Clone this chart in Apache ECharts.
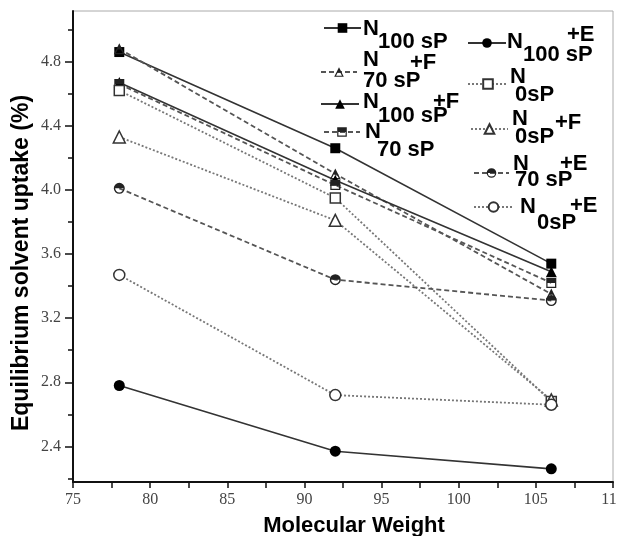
<!DOCTYPE html>
<html><head><meta charset="utf-8">
<script src="https://cdn.jsdelivr.net/npm/echarts@6/dist/echarts.min.js"></script>
<style>html,body{margin:0;padding:0;background:#fff}#c{width:617px;height:536px}</style>
</head><body><div id="c"></div>
<script>
// ---- data ----
const molecularWeights = [78, 92, 106];
const seriesNames = ['N100sP', 'N70sP+F', 'N100sP+F', 'N70sP', 'N100sP+E', 'N0sP', 'N0sP+F', 'N70sP+E', 'N0sP+E'];
const n100sP  = [4.86, 4.26, 3.54];
const n70sPF  = [4.88, 4.10, 3.35];
const n100sPF = [4.67, 4.06, 3.49];
const n70sP   = [4.66, 4.03, 3.42];
const n100sPE = [2.78, 2.37, 2.26];
const n0sP    = [4.62, 3.95, 2.68];
const n0sPF   = [4.33, 3.81, 2.69];
const n70sPE  = [4.01, 3.44, 3.31];
const n0sPE   = [3.47, 2.72, 2.66];
const yMajorTicks = [2.4, 2.8, 3.2, 3.6, 4.0, 4.4, 4.8];
const yMinorTicks = [2.2, 2.6, 3.0, 3.4, 3.8, 4.2, 4.6, 5.0];
const xTickStep = 5;

// ---- styles ----
const halfSquare = 'path://M0 0L20 0L20 20L0 20Z M2.5 10L2.5 17.5L17.5 17.5L17.5 10Z';
const halfCircle = 'path://M0 10A10 10 0 1 1 20 10A10 10 0 1 1 0 10Z M2.5 10A7.5 7.5 0 0 0 17.5 10Z';
const halfTri = 'path://M10 0L20 20L0 20Z M7.3 11L3.9 17.6L16.1 17.6L12.7 11Z';
const SOLID = {type: 'solid', color: '#333', width: 1.6};
const DASH = {type: [5, 3], color: '#555', width: 1.8};
const DOT = {type: [2, 2], color: '#777', width: 1.8};
const filled = {color: '#000'};
const open = {color: '#fff', borderColor: '#333', borderWidth: 1.5};
const halfSt = {color: '#222'};

const styles = [
  {symbol: 'rect', size: 10, line: SOLID, item: filled},
  {symbol: halfTri, size: 11, line: DASH, item: halfSt},
  {symbol: 'triangle', size: 11, line: SOLID, item: filled},
  {symbol: halfSquare, size: 10, line: DASH, item: halfSt},
  {symbol: 'circle', size: 11, line: SOLID, item: filled},
  {symbol: 'rect', size: 10, line: DOT, item: open},
  {symbol: 'triangle', size: 12, line: DOT, item: open},
  {symbol: halfCircle, size: 11, line: DASH, item: halfSt},
  {symbol: 'circle', size: 11, line: DOT, item: open}
];
const values = [n100sP, n70sPF, n100sPF, n70sP, n100sPE, n0sP, n0sPF, n70sPE, n0sPE];

const series = seriesNames.map((name, i) => ({
  name, type: 'line',
  data: molecularWeights.map((x, j) => [x, values[i][j]]),
  symbol: styles[i].symbol, symbolSize: styles[i].size,
  lineStyle: styles[i].line, itemStyle: styles[i].item,
  emphasis: {disabled: true}, animation: false
}));

// legend icon positions [left, centerY, width]
const legendPos = [
  [323, 28, 37], [320, 72, 36], [320, 104, 38], [323, 132, 36],
  [467, 43, 38], [467, 84, 40], [470, 129, 37], [473, 173, 35], [473, 207, 39]
];
const legends = seriesNames.map((name, i) => ({
  data: [name], left: legendPos[i][0], top: legendPos[i][1] - 6,
  itemWidth: legendPos[i][2], itemHeight: 12, padding: 0,
  formatter: () => '', selectedMode: false, textStyle: {fontSize: 1}
}));

// legend label pieces: [text, x, centerY]
const labelPieces = [
  ['N', 363, 29], ['100 sP', 378, 42],
  ['N', 363, 60], ['+F', 410, 63], ['70 sP', 363, 81],
  ['N', 363, 102], ['+F', 433, 102], ['100 sP', 378, 116],
  ['N', 365, 132], ['70 sP', 377, 150],
  ['N', 507, 42], ['+E', 567, 35], ['100 sP', 523, 55],
  ['N', 510, 77], ['0sP', 515, 95],
  ['N', 512, 119], ['+F', 555, 123], ['0sP', 515, 137],
  ['N', 513, 164], ['+E', 560, 164], ['70 sP', 515, 180],
  ['N', 520, 207], ['+E', 570, 206], ['0sP', 537, 223]
];
const graphics = labelPieces.map(p => ({
  type: 'text', x: p[1], y: p[2], z: 100,
  style: {text: p[0], fill: '#000', fontSize: 22, fontWeight: 'bold', fontFamily: 'Liberation Sans', verticalAlign: 'middle', align: 'left'}
}));
graphics.push({
  type: 'text', x: 354, y: 526,
  style: {text: 'Molecular Weight', fill: '#000', fontSize: 22, fontWeight: 'bold', fontFamily: 'Liberation Sans', verticalAlign: 'middle', align: 'center'}
});
graphics.push({
  type: 'text', x: 22, y: 263, rotation: Math.PI / 2,
  style: {text: 'Equilibrium solvent uptake (%)', fill: '#000', fontSize: 23, fontWeight: 'bold', fontFamily: 'Liberation Sans', verticalAlign: 'middle', align: 'center'}
});

const yMin = 2.178, yMax = 5.116;
const labelFont = {fontFamily: 'Liberation Serif', fontSize: 16, color: '#444'};

const option = {
  backgroundColor: '#fff',
  animation: false,
  grid: {left: 73, right: 4, top: 11, bottom: 54, show: true, borderColor: '#aaa', borderWidth: 1, outerBoundsMode: 'none', containLabel: false},
  xAxis: {
    type: 'value', min: 75, max: 110, interval: xTickStep,
    axisLine: {lineStyle: {color: '#111', width: 2}},
    axisTick: {length: 6, lineStyle: {color: '#111', width: 1.5}},
    minorTick: {show: true, splitNumber: 2, length: 6, lineStyle: {color: '#111', width: 1.5}},
    axisLabel: Object.assign({margin: 10, hideOverlap: false}, labelFont),
    splitLine: {show: false}
  },
  yAxis: [{
    type: 'value', min: yMin, max: yMax,
    axisLine: {show: true, lineStyle: {color: '#111', width: 2}},
    axisTick: {show: true, length: 8, customValues: yMajorTicks, lineStyle: {color: '#111', width: 1.5}},
    axisLabel: Object.assign({margin: 12, customValues: yMajorTicks, formatter: v => v.toFixed(1)}, labelFont),
    splitLine: {show: false}
  }, {
    type: 'value', min: yMin, max: yMax, position: 'left',
    axisLine: {show: false},
    axisTick: {show: true, length: 5, customValues: yMinorTicks, lineStyle: {color: '#111', width: 1.5}},
    axisLabel: {show: false, customValues: yMinorTicks},
    splitLine: {show: false}
  }],
  legend: legends,
  series,
  graphic: graphics
};
const chart = echarts.init(document.getElementById('c'), null, {renderer: 'canvas'});
chart.setOption(option);
</script>
</body></html>
